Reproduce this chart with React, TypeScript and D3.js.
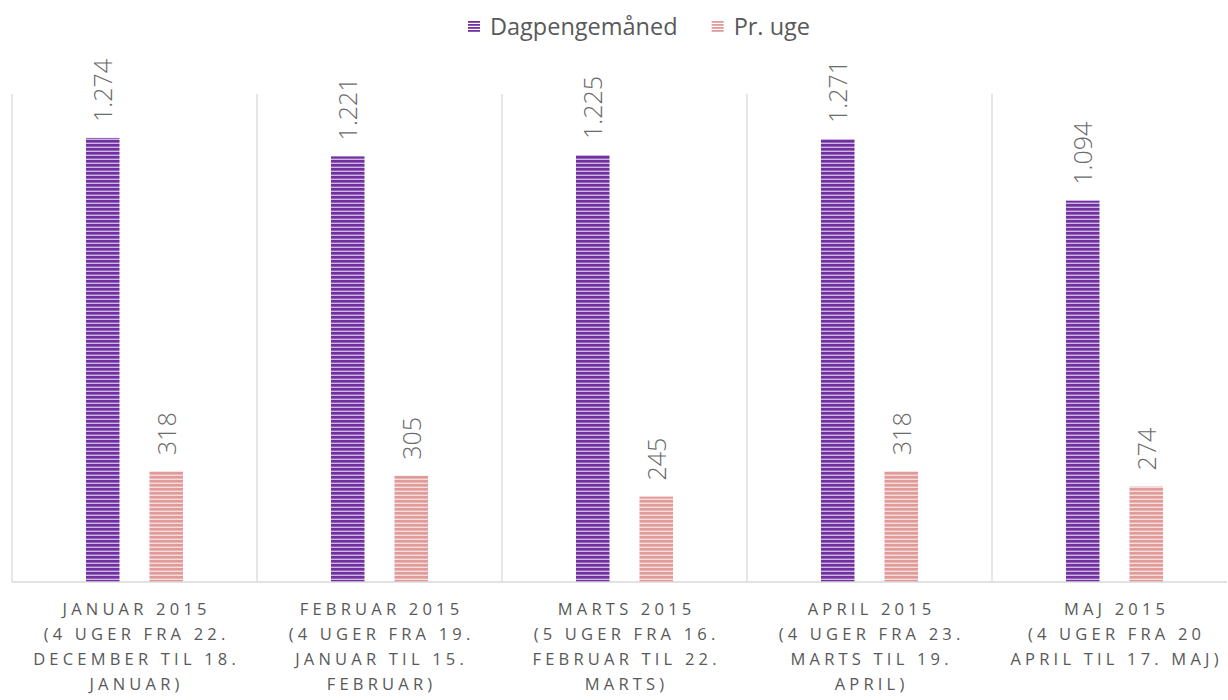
import { useEffect, useRef } from 'react';
import * as d3 from 'd3';

const categories = [
  ['JANUAR 2015', '(4 UGER FRA 22.', 'DECEMBER TIL 18.', 'JANUAR)'],
  ['FEBRUAR 2015', '(4 UGER FRA 19.', 'JANUAR TIL 15.', 'FEBRUAR)'],
  ['MARTS 2015', '(5 UGER FRA 16.', 'FEBRUAR TIL 22.', 'MARTS)'],
  ['APRIL 2015', '(4 UGER FRA 23.', 'MARTS TIL 19.', 'APRIL)'],
  ['MAJ 2015', '(4 UGER FRA 20', 'APRIL TIL 17. MAJ)'],
];
const seriesNames = ['Dagpengemåned', 'Pr. uge'];
const dagpengeValues = [1274, 1221, 1225, 1271, 1094];
const ugeValues = [318, 305, 245, 318, 274];
const seriesColors = [
  { dark: '#7030a0', light: '#cdb6e0', id: 'patPurple' },
  { dark: '#e09a9a', light: '#f7dcdc', id: 'patPink' },
];

const fmt = (v: number) => {
  const s = String(v);
  return s.length > 3 ? s.slice(0, s.length - 3) + '.' + s.slice(-3) : s;
};

const FONT = '"Open Sans", "Noto Sans", sans-serif';

const App = () => {
  const svgRef = useRef<SVGSVGElement>(null);

  useEffect(() => {
    const width = 1228;
    const height = 700;
    const margin = { top: 94, bottom: 118, left: 12 };

    const svg = d3.select(svgRef.current);
    svg.selectAll('*').remove();
    svg.attr('width', width).attr('height', height);

    // stripe patterns
    const defs = svg.append('defs');
    seriesColors.forEach(c => {
      const p = defs.append('pattern')
        .attr('id', c.id)
        .attr('patternUnits', 'userSpaceOnUse')
        .attr('width', 8)
        .attr('height', 4);
      p.append('rect').attr('width', 8).attr('height', 4).attr('fill', c.light);
      p.append('rect').attr('y', 0).attr('width', 8).attr('height', 2.6).attr('fill', c.dark);
    });

    const idx = categories.map((_, i) => String(i));
    // last category runs past the right edge, like the original
    const x0 = d3.scaleBand<string>()
      .domain(idx)
      .range([margin.left, margin.left + 5 * 245]);

    const groupW = 97;
    const off = (x0.bandwidth() - groupW) / 2;
    const x1 = d3.scaleBand<string>()
      .domain(seriesNames)
      .range([off, off + groupW])
      .paddingInner(0.4724);

    const y = d3.scaleLinear()
      .domain([0, 1400])
      .range([height - margin.bottom, margin.top]);

    const base = y(0);

    // vertical dividers
    svg.append('g')
      .selectAll('line')
      .data(idx)
      .join('line')
      .attr('x1', d => x0(d)!)
      .attr('x2', d => x0(d)!)
      .attr('y1', margin.top)
      .attr('y2', base)
      .attr('stroke', '#d9d9d9')
      .attr('stroke-width', 1.3);

    const allSeries = [dagpengeValues, ugeValues];

    allSeries.forEach((vals, si) => {
      const g = svg.append('g');
      g.selectAll('rect')
        .data(vals)
        .join('rect')
        .attr('x', (_, i) => x0(String(i))! + x1(seriesNames[si])!)
        .attr('y', d => y(d))
        .attr('width', x1.bandwidth())
        .attr('height', d => base - y(d))
        .attr('fill', `url(#${seriesColors[si].id})`);

      g.selectAll('text')
        .data(vals)
        .join('text')
        .attr('transform', (d, i) => {
          const cx = x0(String(i))! + x1(seriesNames[si])! + x1.bandwidth() / 2;
          return `translate(${cx + 9.5},${y(d) - 16}) rotate(-90)`;
        })
        .attr('font-family', FONT)
        .attr('font-size', 25)
        .attr('font-weight', 300)
        .attr('fill', '#6b6b6b')
        .text(d => fmt(d));
    });

    // baseline
    svg.append('line')
      .attr('x1', margin.left)
      .attr('x2', width - 1)
      .attr('y1', base)
      .attr('y2', base)
      .attr('stroke', '#d9d9d9')
      .attr('stroke-width', 1.5);

    // category labels
    const lab = svg.append('g');
    categories.forEach((lines, i) => {
      const cx = x0(String(i))! + x0.bandwidth() / 2;
      const t = lab.append('text')
        .attr('text-anchor', 'middle')
        .attr('font-family', FONT)
        .attr('font-size', 16.5)
        .attr('letter-spacing', 4.2)
        .attr('fill', '#595959');
      lines.forEach((ln, li) => {
        t.append('tspan')
          .attr('x', cx + 2.1)
          .attr('y', base + 33 + li * 25)
          .text(ln);
      });
    });

    // legend
    const leg = svg.append('g').attr('font-family', FONT).attr('font-size', 23.5).attr('fill', '#595959');
    let lx = 0;
    seriesNames.forEach((name, si) => {
      const it = leg.append('g').attr('transform', `translate(${lx},0)`);
      for (let k = 0; k < 4; k++) {
        it.append('rect')
          .attr('x', 0)
          .attr('y', 21 + k * 3)
          .attr('width', 12)
          .attr('height', 1.8)
          .attr('fill', seriesColors[si].dark);
      }
      const tx = it.append('text').attr('x', 22).attr('y', 35).text(name);
      const w = (tx.node() as SVGTextElement).getComputedTextLength();
      lx += 22 + w + 34;
    });
    leg.attr('transform', 'translate(468,0)');
  }, []);

  return <svg ref={svgRef} style={{ display: 'block', position: 'absolute', left: 0, top: 0 }} />;
};

export default App;
